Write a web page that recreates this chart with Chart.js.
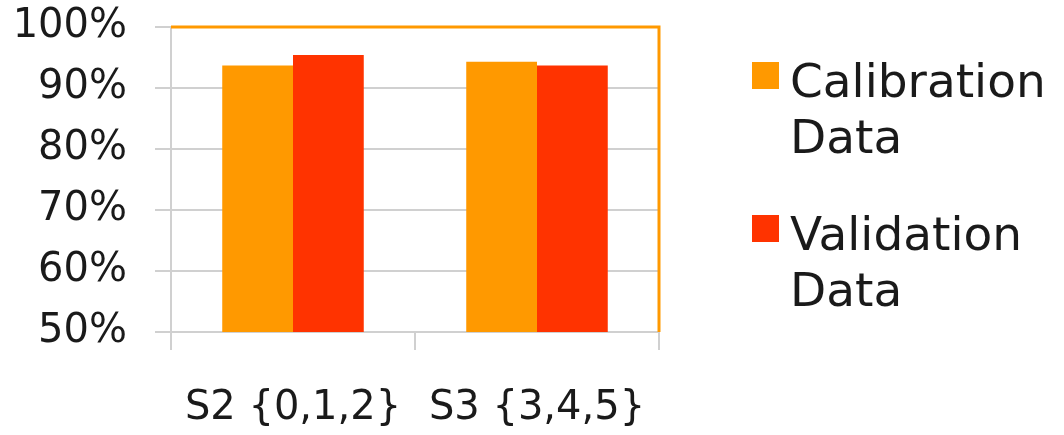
<!DOCTYPE html>
<html>
<head>
<meta charset="utf-8">
<script src="https://cdn.jsdelivr.net/npm/chart.js@4/dist/chart.umd.min.js"></script>
<style>
  html, body { margin: 0; padding: 0; background: #ffffff; }
  #wrap { width: 1064px; height: 435px; position: relative; }
</style>
</head>
<body>
<div id="wrap"><canvas id="c" width="1064" height="435"></canvas></div>
<script>
const categories = ["S2 {0,1,2}", "S3 {3,4,5}"];
const calibrationValues = [93.7, 94.3];
const validationValues = [95.4, 93.7];
const seriesLabels = [["Calibration", "Data"], ["Validation", "Data"]];
const yTicks = [50, 60, 70, 80, 90, 100];

const FONT = "'DejaVu Sans', sans-serif";

const framePlugin = {
  id: 'frame',
  afterDraw(chart) {
    const { ctx, chartArea } = chart;
    ctx.save();
    ctx.strokeStyle = '#FF9900';
    ctx.lineWidth = 3;
    ctx.beginPath();
    ctx.moveTo(chartArea.left, chartArea.top);
    ctx.lineTo(chartArea.right, chartArea.top);
    ctx.lineTo(chartArea.right, chartArea.bottom);
    ctx.stroke();
    ctx.restore();
  }
};

const legendPlugin = {
  id: 'customLegend',
  afterDraw(chart) {
    const { ctx } = chart;
    const ds = chart.data.datasets;
    const x0 = 752, box = 27;
    const tops = [62, 215];
    const lh = 56;
    ctx.save();
    ctx.font = "47px " + FONT;
    ctx.textBaseline = 'alphabetic';
    ctx.textAlign = 'left';
    ds.forEach((d, i) => {
      ctx.fillStyle = d.backgroundColor;
      ctx.fillRect(x0, tops[i], box, box);
      ctx.fillStyle = '#1a1a1a';
      const lines = Array.isArray(d.legendText) ? d.legendText : [d.label];
      lines.forEach((t, j) => {
        ctx.fillText(t, 790, tops[i] + 35 + j * lh);
      });
    });
    ctx.restore();
  }
};

new Chart(document.getElementById('c'), {
  type: 'bar',
  data: {
    labels: categories,
    datasets: [
      { label: seriesLabels[0].join(' '), legendText: seriesLabels[0], data: calibrationValues, backgroundColor: '#FF9900', borderWidth: 0 },
      { label: seriesLabels[1].join(' '), legendText: seriesLabels[1], data: validationValues, backgroundColor: '#FF3300', borderWidth: 0 }
    ]
  },
  options: {
    responsive: false,
    animation: false,
    devicePixelRatio: 1,
    layout: { padding: { top: 27, right: 405, left: 0, bottom: 0 } },
    plugins: {
      legend: { display: false },
      tooltip: { enabled: false }
    },
    datasets: { bar: { categoryPercentage: 0.58, barPercentage: 1.0 } },
    scales: {
      x: {
        grid: { offset: true, drawOnChartArea: false, color: '#d0d0d0', lineWidth: 2, tickLength: 18 },
        border: { color: '#d0d0d0', width: 2 },
        ticks: { color: '#1a1a1a', font: { family: FONT, size: 40 }, padding: 35, maxRotation: 0 },
        afterFit(scale) { scale.height = 103; scale.paddingLeft = 0; scale.paddingRight = 0; }
      },
      y: {
        min: 50, max: 100,
        afterBuildTicks(scale) { scale.ticks = yTicks.map(v => ({ value: v })); },
        grid: { color: '#d0d0d0', lineWidth: 2, tickLength: 16 },
        border: { color: '#d0d0d0', width: 2 },
        ticks: { color: '#1a1a1a', font: { family: FONT, size: 40 }, padding: 28, callback: v => v + '%' },
        afterFit(scale) { scale.width = 171; scale.paddingTop = 0; scale.paddingBottom = 0; }
      }
    }
  },
  plugins: [framePlugin, legendPlugin]
});
</script>
</body>
</html>
